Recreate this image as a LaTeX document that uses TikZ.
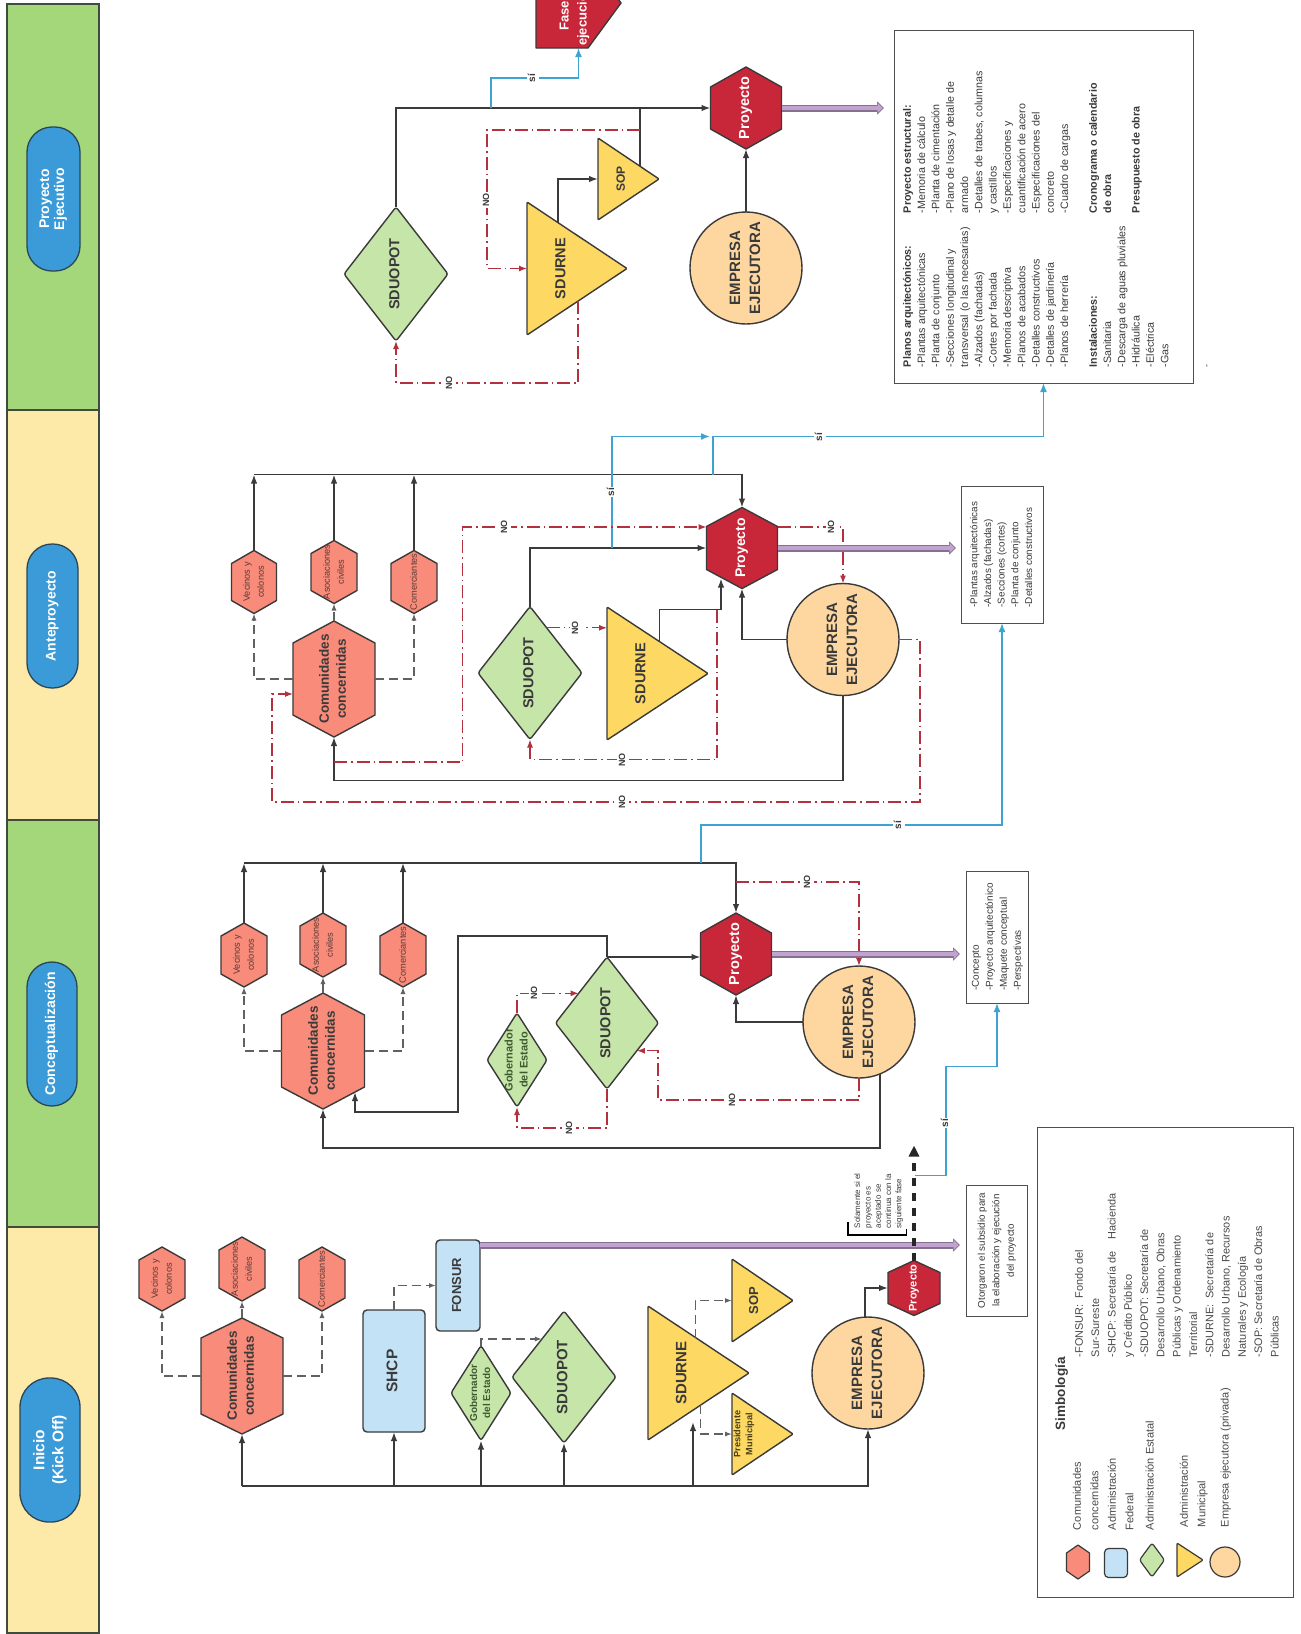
\documentclass[tikz,border=0pt]{standalone}
\usepackage{fontspec}
\setmainfont{Liberation Sans}
\usepackage{graphicx}
\usetikzlibrary{arrows.meta,calc}

\definecolor{stripG}{HTML}{A4D779}
\definecolor{stripY}{HTML}{FDE9A8}
\definecolor{stripB}{HTML}{3F4B3C}
\definecolor{pillF}{HTML}{3B9BD8}
\definecolor{pillB}{HTML}{2C4556}
\definecolor{salmon}{HTML}{F98B7A}
\definecolor{crim}{HTML}{C8273A}
\definecolor{lgreen}{HTML}{C6E5A9}
\definecolor{ylw}{HTML}{FDD862}
\definecolor{peach}{HTML}{FDD6A0}
\definecolor{lblue}{HTML}{C4E2F5}
\definecolor{ink}{HTML}{3A3A3A}
\definecolor{redl}{HTML}{B3313E}
\definecolor{bluel}{HTML}{3DA3D3}
\definecolor{purpI}{HTML}{C2A3CF}
\definecolor{purpO}{HTML}{86708F}
\definecolor{gtext}{HTML}{3E5B2F}
\definecolor{stext}{HTML}{5B3B36}
\definecolor{ytext}{HTML}{4A3F16}
\definecolor{lgray}{HTML}{4A4A4A}

\newcommand\rtx[1]{\rotatebox{90}{\begin{tabular}{@{}c@{}}#1\end{tabular}}}
\newcommand\rtl[1]{\rotatebox{90}{\begin{tabular}{@{}l@{}}#1\end{tabular}}}

% hexagon: name cx cy w h tip style content
\newcommand\mkhex[8]{%
  \path[#7] (#2,#3-#5/2) -- (#2+#4/2,#3-#5/2+#6) -- (#2+#4/2,#3+#5/2-#6)
    -- (#2,#3+#5/2) -- (#2-#4/2,#3+#5/2-#6) -- (#2-#4/2,#3-#5/2+#6) -- cycle;
  \node[lab, minimum width=#4pt, minimum height=#5pt] (#1) at (#2,#3) {#8};}
% diamond: name cx cy w h style content
\newcommand\mkdia[7]{%
  \path[#6] (#2,#3-#5/2) -- (#2+#4/2,#3) -- (#2,#3+#5/2) -- (#2-#4/2,#3) -- cycle;
  \node[lab, minimum width=#4pt, minimum height=#5pt] (#1) at (#2,#3) {#7};}
% triangle: name xbase ytop ybot xapex style shift content
\newcommand\mktri[8]{%
  \path[#6] (#2,#3) -- (#5,{(#3+#4)/2}) -- (#2,#4) -- cycle;
  \pgfmathsetmacro\trW{#5-#2}\pgfmathsetmacro\trH{#4-#3}%
  \pgfmathsetmacro\trX{(#2+#5)/2}\pgfmathsetmacro\trY{(#3+#4)/2}%
  \node[lab, minimum width=\trW pt, minimum height=\trH pt] (#1) at (\trX,\trY) {#8\hspace*{#7pt}};}

\newcommand\cfont{\bfseries\fontsize{13.5}{17}\selectfont\color{ink}}
\newcommand\dfont{\bfseries\fontsize{14.5}{17}\selectfont\color{ink}}
\newcommand\efont{\bfseries\fontsize{15}{20}\selectfont\color{ink}}
\newcommand\pfont{\bfseries\fontsize{14}{16}\selectfont\color{white}}
\newcommand\subfont{\fontsize{9.2}{14}\selectfont\color{stext}}

\tikzset{
  lab/.style={inner sep=0pt, outer sep=0pt},
  shp/.style={draw=ink, line width=1.4pt, line join=round},
  hexS/.style={shp, fill=salmon},
  hexP/.style={shp, fill=crim},
  dia/.style={shp, fill=lgreen, rounded corners=2.5pt},
  tri/.style={shp, fill=ylw, rounded corners=1pt},
  emp/.style={circle, shp, fill=peach, minimum size=112pt, inner sep=0pt, outer sep=0pt},
  rbox/.style={shp, fill=lblue, rounded corners=4pt, inner sep=0pt, outer sep=0pt},
  strip/.style={draw=stripB, line width=1.3pt, minimum width=92pt, inner sep=0pt, outer sep=0pt},
  pillS/.style={minimum height=144pt, rounded corners=25pt, fill=pillF, draw=pillB, line width=1.3pt,
    text=white, inner sep=0pt, font=\bfseries\fontsize{14}{15}\selectfont},
  tbox/.style={draw=ink!90, line width=1pt, fill=white, inner sep=0pt, outer sep=0pt, text=ink},
  conn/.style={draw=ink, line width=1.6pt},
  arr/.style={conn, -{Latex[length=9pt,width=6.5pt]}},
  redarr/.style={draw=redl, line width=1.3pt, dash pattern=on 13pt off 4pt on 1.5pt off 4pt,
    -{Latex[length=8pt,width=6pt]}},
  gdash/.style={draw=ink!80, line width=1.3pt, dash pattern=on 9pt off 5pt, -{Latex[length=7pt,width=5pt]}},
  bluearr/.style={draw=bluel, line width=1.6pt, -{Latex[length=9pt,width=7pt]}},
  purpO/.style={draw=purpO, line width=7pt, -{Triangle[length=7pt,width=13pt]}},
  purpI/.style={draw=purpI, line width=4.5pt, shorten >=1.4pt, -{Triangle[length=5pt,width=9.5pt]}},
  thickdash/.style={draw=black!85, line width=3.2pt, dash pattern=on 8pt off 7pt, -{Triangle[length=11pt,width=10pt]}},
  nolab/.style={fill=white, inner sep=1pt, text=ink, font=\bfseries\fontsize{9}{10}\selectfont},
  silab/.style={fill=white, inner sep=1pt, text=ink, font=\bfseries\fontsize{10}{10}\selectfont},
}

\begin{document}
\begin{tikzpicture}[x=1pt,y=-1pt]
\useasboundingbox (0,0) rectangle (1301,1634);
\fill[white] (0,0) rectangle (1301,1634);

% ---------- phase strips ----------
\node[strip, fill=stripG, minimum height=406pt] (sPE) at (53,207) {};
\node[strip, fill=stripY, minimum height=410pt] (sAP) at (53,615) {};
\node[strip, fill=stripG, minimum height=407pt] (sCO) at (53,1023.5) {};
\node[strip, fill=stripY, minimum height=406pt] (sIN) at (53,1430) {};
\node[pillS, minimum width=53pt] (pPE) at (53.5,199) {\rtx{Proyecto\\Ejecutivo}};
\node[pillS, minimum width=51pt] (pAP) at (52.5,616) {\rtx{Anteproyecto}};
\node[pillS, minimum width=50pt] (pCO) at (52,1034) {\rtx{Conceptualización}};
\node[pillS, minimum width=60pt, rounded corners=29pt, font=\bfseries\fontsize{15.5}{19}\selectfont] (pIN) at (50,1450) {\rtx{Inicio\\(Kick Off)}};

% ---------- text boxes ----------
\node[tbox, minimum width=299pt, minimum height=353pt] (TB4) at (1043.5,206.5) {};
\node[lab, anchor=south west, text=ink] (TB4t) at (903,367) {\rotatebox{90}{\fontsize{10.7}{14.3}\selectfont
 \parbox[t]{154pt}{\raggedright
 \textbf{Planos arquitectónicos:}\\
 -Plantas arquitectónicas\\
 -Planta de conjunto\\
 -Secciones longitudinal y\\
 transversal (o las necesarias)\\
 -Alzados (fachadas)\\
 -Cortes por fachada\\
 -Memoria descriptiva\\
 -Planos de acabados\\
 -Detalles constructivos\\
 -Detalles de jardinería\\
 -Planos de herrería\\[14.3pt]
 \textbf{Instalaciones:}\\
 -Sanitaria\\
 -Descarga de aguas pluviales\\
 -Hidráulica\\
 -Eléctrica\\
 -Gas}%
 \parbox[t]{150pt}{\raggedright
 \textbf{Proyecto estructural:}\\
 -Memoria de cálculo\\
 -Planta de cimentación\\
 -Plano de losas y detalle de\\
 armado\\
 -Detalles de trabes, columnas\\
 y castillos\\
 -Especificaciones y\\
 cuantificación de acero\\
 -Especificaciones del\\
 concreto\\
 -Cuadro de cargas\\[14.3pt]
 \textbf{Cronograma o calendario}\\
 \textbf{de obra}\\[14.3pt]
 \textbf{Presupuesto de obra}}}};
\node[lab, text=ink] (dotm) at (1208,366) {\rotatebox{90}{\fontsize{9}{9}\selectfont -}};
\node[tbox, minimum width=82pt, minimum height=137pt, font=\fontsize{9.9}{13.7}\selectfont] (TB3) at (1002,554.5)
  {\rtl{-Plantas arquitectónicas\\-Alzados (fachadas)\\-Secciones (cortes)\\-Planta de conjunto\\-Detalles constructivos}};
\node[tbox, minimum width=62pt, minimum height=132pt, font=\fontsize{10}{14}\selectfont] (TB2) at (997,937)
  {\rtl{-Concepto\\-Proyecto arquitectónico\\-Maquete conceptual\\-Perspectivas}};
\node[tbox, minimum width=61pt, minimum height=131pt, font=\fontsize{9.8}{14.5}\selectfont] (TB1) at (996.5,1250.5)
  {\rtx{Otorgaron el subsidio para\\la elaboración y ejecución\\del proyecto}};

% ---------- legend ----------
\node[tbox, minimum width=256pt, minimum height=470pt] (LEG) at (1165,1362) {};
\node[lab, anchor=south, text=ink, font=\bfseries\fontsize{13.5}{16}\selectfont] (LSim) at (1062,1430) {\rtx{Simbología}};
\mkhex{Lhex}{1078}{1562}{23}{34}{8}{hexS, line width=1.2pt}{}
\node[rbox, line width=1.2pt, minimum width=23pt, minimum height=29pt] (Lrect) at (1116,1563) {};
\mkdia{Ldia}{1152}{1560}{25}{34}{dia, line width=1.2pt}{}
\mktri{Ltri}{1177}{1543}{1577}{1203}{tri, line width=1.2pt}{0}{}
\node[emp, line width=1.2pt, minimum size=30pt] (Lcir) at (1225,1562) {};
\begin{scope}[every node/.style={lab, anchor=south, text=lgray, font=\fontsize{11}{17.5}\selectfont}]
\node (L1) at (1086,1530) {\rtl{Comunidades\\concernidas}};
\node (L2) at (1121,1530) {\rtl{Administración\\Federal}};
\node (L3) at (1150,1530) {\rtl{Administración Estatal}};
\node (L4) at (1193,1527) {\rtl{Administración\\Municipal}};
\node (L5) at (1225,1527) {\rtl{Empresa ejecutora (privada)}};
\end{scope}
\node[lab, anchor=south west, text=lgray] (LDef) at (1075,1357) {\rotatebox{90}{\fontsize{10.9}{16.3}\selectfont
 \parbox[t]{176pt}{\raggedright
 -FONSUR:\hspace{6pt}Fondo del\\
 Sur-Sureste\\
 -SHCP: Secretaría de\hspace{12pt}Hacienda\\
 y Crédito Público\\
 -SDUOPOT: Secretaría de\\
 Desarrollo Urbano, Obras\\
 Públicas y Ordenamiento\\
 Territorial\\
 -SDURNE:\hspace{6pt}Secretaría de\\
 Desarrollo Urbano, Recursos\\
 Naturales y Ecología\\
 -SOP: Secretaría de Obras\\
 Públicas}}};

% ================= PROYECTO EJECUTIVO =================
\path[shp, fill=crim] (536,-42) -- (536,48) -- (588,48) -- (621,3) -- (588,-42) -- cycle;
\node[lab, minimum width=85pt, minimum height=90pt] (F4) at (578.5,3) {};
\node[lab, text=white, font=\bfseries\fontsize{13}{18}\selectfont] (F4t) at (574,16) {\rtx{Fase\\ejecución}};
\mkdia{D4}{396}{274}{104}{134}{dia}{\dfont\rtx{SDUOPOT}}
\mkhex{P4}{746}{108}{71}{82}{20}{hexP}{\bfseries\fontsize{14.5}{16}\selectfont\color{white}\rtx{Proyecto}}
\mktri{T4}{527}{202}{335}{627}{tri}{30}{\dfont\rtx{SDURNE}}
\mktri{S4}{598}{138}{220}{659}{tri}{13}{\bfseries\fontsize{12}{14}\selectfont\color{ink}\rtx{SOP}}
\node[emp] (E4) at (746,268) {\efont\rtx{EMPRESA\\EJECUTORA}};

\draw[arr] (D4.north) |- (P4.west);
\coordinate (j4) at ($(D4.north |- P4.west)+(95,0)$);
\draw[bluearr] (j4) -- ++(0,-30) -| (F4.south);
\coordinate (t4a) at ($(T4.north west)!0.31!(T4.east)$);
\draw[arr] (t4a) |- (S4.west);
\coordinate (s4a) at ($(S4.north west)!0.69!(S4.east)$);
\draw[conn] (s4a) -- (s4a |- P4.west);
\coordinate (r4) at ($(s4a |- P4.west)+(0,22)$);
\draw[redarr] (r4) -| ($(T4.west)+(-40,0)$) -- (T4.west);
\coordinate (t4b) at ($(T4.south west)!0.51!(T4.east)$);
\draw[redarr] (t4b) -- ++(0,82) -| (D4.south);
\draw[arr] (E4.north) -- (P4.south);
\draw[purpO] (P4.east) -- ($(P4.east -| TB4.west)+(-10,0)$);
\draw[purpI] (P4.east) -- ($(P4.east -| TB4.west)+(-10,0)$);
\node[silab] (si4) at (533,78) {\rtx{sí}};
\node[nolab] (no4a) at (487,200) {\rtx{NO}};
\node[nolab] (no4b) at (450,383) {\rtx{NO}};

% ================= ANTEPROYECTO =================
\mkhex{C3}{334}{679}{82}{116}{22}{hexS}{\cfont\rtx{Comunidades\\concernidas}}
\mkhex{V3}{254}{582}{45}{63}{13}{hexS}{\subfont\rtx{Vecinos y\\colonos}}
\mkhex{A3}{334}{572}{46}{63}{13}{hexS}{\subfont\rtx{Asociaciones\\civiles}}
\mkhex{M3}{414}{582}{46}{63}{13}{hexS}{\subfont\rtx{Comerciantes}}
\mkhex{P3}{742}{548}{71}{81}{19}{hexP}{\pfont\rtx{Proyecto}}
\mkdia{D3}{530}{673}{104}{133}{dia}{\dfont\rtx{SDUOPOT}}
\mktri{T3}{607}{607}{740}{708}{tri}{31}{\dfont\rtx{SDURNE}}
\node[emp] (E3) at (843,639.5) {\efont\rtx{EMPRESA\\EJECUTORA}};

\draw[gdash] (C3.west) -| (V3.south);
\draw[gdash] (C3.north) -- (A3.south);
\draw[gdash] (C3.east) -| (M3.south);
\coordinate (top3) at ($(P3.north)+(0,-33)$);
\draw[arr] (V3.north) -- (V3.north |- top3);
\draw[arr] (A3.north) -- (A3.north |- top3);
\draw[arr] (M3.north) -- (M3.north |- top3);
\draw[arr] (V3.north |- top3) -| (P3.north);
\draw[arr] (D3.north) |- (P3.west);
\coordinate (b3a) at ($(D3.north |- P3.west)+(82,0)$);
\coordinate (b3d) at ($(top3)+(-29,0)$);
\coordinate (b3c) at ($(b3d)+(0,-38)$);
\draw[bluearr] (b3a) |- ($(b3c)+(-3,0)$);
\draw[bluearr] (b3d) -- (b3c) -| (TB4.south);
\coordinate (d3a) at ($(D3.north)!0.32!(D3.east)$);
\draw[redarr] (d3a) -- (d3a -| T3.west);
\coordinate (t3a) at ($(T3.north west)!0.52!(T3.east)$);
\coordinate (p3b) at ($(P3.south)+(-21,-10)$);
\draw[arr] (t3a) |- ($(p3b)+(0,31)$) -- (p3b);
\draw[arr] (E3.west) -| (P3.south);
\draw[arr] (E3.south) -- ++(0,85) -| (C3.south);
\draw[redarr] ($(P3.east)+(0,-21)$) -| (E3.north);
\coordinate (r3a) at ($(C3.south)+(0,25)$);
\draw[redarr] (r3a) -| ($(P3.west)+(-244,-21)$) -- ($(P3.west)+(0,-21)$);
\coordinate (r3c) at ($(p3b)+(-4,31)$);
\draw[redarr] (r3c) -- ++(0,150) -| (D3.south);
\draw[redarr] (E3.east) -- ++(21,0) |- ($(C3.west)+(-21,123)$) |- ($(C3.west)+(0,15)$);
\draw[purpO] (P3.east) -- ($(P3.east -| TB3.west)+(-5,0)$);
\draw[purpI] (P3.east) -- ($(P3.east -| TB3.west)+(-5,0)$);
\node[silab] (si3a) at (612,492) {\rtx{sí}};
\node[silab] (si3b) at (820,437) {\rtx{sí}};
\node[nolab] (no3a) at (576,628) {\rtx{NO}};
\node[nolab] (no3b) at (832,527) {\rtx{NO}};
\node[nolab] (no3c) at (505,527) {\rtx{NO}};
\node[nolab] (no3d) at (623,760) {\rtx{NO}};
\node[nolab] (no3e) at (623,802) {\rtx{NO}};

% ================= CONCEPTUALIZACION =================
\mkhex{C2}{323}{1051}{83}{116}{22}{hexS}{\cfont\rtx{Comunidades\\concernidas}}
\mkhex{V2}{244}{955}{46}{64}{13}{hexS}{\subfont\rtx{Vecinos y\\colonos}}
\mkhex{A2}{323}{945}{46}{64}{13}{hexS}{\subfont\rtx{Asociaciones\\civiles}}
\mkhex{M2}{403}{955}{46}{64}{13}{hexS}{\subfont\rtx{Comerciantes}}
\mkhex{P2}{736}{954}{71}{82}{20}{hexP}{\bfseries\fontsize{14.5}{16}\selectfont\color{white}\rtx{Proyecto}}
\mkdia{D2}{607}{1023}{103}{132}{dia}{\dfont\rtx{SDUOPOT}}
\mkdia{G2}{517}{1060}{60}{94}{dia}{\bfseries\fontsize{11}{15}\selectfont\color{gtext}\rtx{Gobernador\\del Estado}}
\node[emp] (E2) at (859,1022) {\efont\rtx{EMPRESA\\EJECUTORA}};

\draw[gdash] (C2.west) -| (V2.south);
\draw[gdash] (C2.north) -- (A2.south);
\draw[gdash] (C2.east) -| (M2.south);
\coordinate (top2) at ($(P2.north)+(0,-50)$);
\draw[arr] (V2.north) -- (V2.north |- top2);
\draw[arr] (A2.north) -- (A2.north |- top2);
\draw[arr] (M2.north) -- (M2.north |- top2);
\draw[arr] (V2.north |- top2) -| (P2.north);
\draw[arr] (D2.north) -- (D2.north -| P2.west);
\coordinate (c2a) at ($(C2.center)+(32,41)$);
\draw[arr] (D2.north) |- ($(D2.north)+(-149,-21)$) |- ($(c2a)+(0,20)$) -- (c2a);
\coordinate (b2a) at ($(top2)+(-35,0)$);
\draw[bluearr] (b2a) -- ++(0,-38) -| (TB3.south);
\draw[arr] (E2.west) -| (P2.south);
\coordinate (e2b) at ($(E2.center)+(21,52)$);
\draw[arr] (e2b) -- ++(0,74) -| (C2.south);
\coordinate (r2a) at ($(top2)+(0,19)$);
\draw[redarr] (r2a) -| (E2.north);
\coordinate (d2b) at ($(D2.east)!0.42!(D2.south)$);
\draw[redarr] (E2.south) -- ++(0,22) -| ($(d2b)+(21,0)$) -- (d2b);
\coordinate (d2c) at ($(D2.west)!0.45!(D2.north)$);
\draw[redarr] (G2.north) |- (d2c);
\draw[redarr] (D2.south) -- ++(0,39) -| (G2.south);
\draw[purpO] (P2.east) -- ($(P2.east -| TB2.west)+(-6,0)$);
\draw[purpI] (P2.east) -- ($(P2.east -| TB2.west)+(-6,0)$);
\node[silab] (si2a) at (899,825) {\rtx{sí}};
\node[nolab] (no2a) at (808,882) {\rtx{NO}};
\node[nolab] (no2b) at (733,1100) {\rtx{NO}};
\node[nolab] (no2c) at (535,993) {\rtx{NO}};
\node[nolab] (no2d) at (570,1128) {\rtx{NO}};

% ================= INICIO =================
\mkhex{C1}{242}{1376}{82}{116}{20}{hexS}{\cfont\rtx{Comunidades\\concernidas}}
\mkhex{V1}{162}{1279}{46}{64}{13}{hexS}{\subfont\rtx{Vecinos y\\colonos}}
\mkhex{A1}{242}{1269}{46}{64}{13}{hexS}{\subfont\rtx{Asociaciones\\civiles}}
\mkhex{M1}{322}{1279}{46}{64}{13}{hexS}{\subfont\rtx{Comerciantes}}
\node[rbox, minimum width=62pt, minimum height=122pt] (SHCP) at (394,1371) {\bfseries\fontsize{15.5}{17}\selectfont\color{ink}\rtx{SHCP}};
\node[rbox, minimum width=44pt, minimum height=91pt] (FONSUR) at (458,1285.5) {\bfseries\fontsize{13}{15}\selectfont\color{ink}\rtx{FONSUR}};
\mkdia{G1}{481}{1393}{60}{95}{dia}{\bfseries\fontsize{10}{13}\selectfont\color{gtext}\rtx{Gobernador\\del Estado}}
\mkdia{D1}{564}{1377}{104}{132}{dia}{\bfseries\fontsize{15}{17}\selectfont\color{ink}\rtx{SDUOPOT}}
\mktri{T1}{648}{1306}{1440}{749}{tri}{31}{\bfseries\fontsize{15}{17}\selectfont\color{ink}\rtx{SDURNE}}
\mktri{S1}{732}{1259}{1342}{793}{tri}{15}{\bfseries\fontsize{13}{15}\selectfont\color{ink}\rtx{SOP}}
\mktri{PM}{732}{1393}{1475}{793}{tri}{37}{\bfseries\fontsize{9.2}{12}\selectfont\color{ytext}\rtx{Presidente\\Municipal}}
\node[emp] (E1) at (868,1373) {\efont\rtx{EMPRESA\\EJECUTORA}};
\mkhex{P1}{914}{1288}{52}{55}{12}{hexP}{\bfseries\fontsize{11}{13}\selectfont\color{white}\rtx{Proyecto}}

\draw[gdash] (C1.west) -| (V1.south);
\draw[gdash] (C1.north) -- (A1.south);
\draw[gdash] (C1.east) -| (M1.south);
\coordinate (base1) at ($(C1.south)+(0,52)$);
\draw[arr] (base1) -- (C1.south);
\draw[arr] (base1) -| (E1.south);
\draw[arr] (SHCP.south |- base1) -- (SHCP.south);
\draw[arr] (G1.south |- base1) -- (G1.south);
\draw[arr] (D1.south |- base1) -- (D1.south);
\coordinate (t1c) at ($(T1.south west)+(45,-18)$);
\draw[arr] (t1c |- base1) -- (t1c);
\draw[gdash] (SHCP.north) |- (FONSUR.west);
\coordinate (f1) at ($(FONSUR.north east)+(0,5)$);
\draw[purpO] (f1) -- ($(f1 -| TB1.west)+(-6,0)$);
\draw[purpI] (f1) -- ($(f1 -| TB1.west)+(-6,0)$);
\coordinate (d1a) at ($(D1.west)!0.576!(D1.north)$);
\draw[gdash] (G1.north) |- (d1a);
\coordinate (t1a) at ($(T1.north west)!0.47!(T1.east)$);
\draw[gdash] (t1a) |- (S1.west);
\coordinate (t1b) at ($(T1.south west)!0.52!(T1.east)$);
\draw[gdash] (t1b) |- (PM.west);
\draw[arr] ($(E1.north)+(-3,0)$) |- (P1.west);
\draw[thickdash] (P1.north) -- ++(0,-115);
\coordinate (b1a) at ($(P1.north)+(1,-85)$);
\draw[bluearr] (b1a) -| ($(b1a)+(31,-109)$) -| (TB2.south);
\node[silab] (si1) at (946,1123) {\rtx{sí}};

% note with bracket
\node[lab, anchor=south west, text=ink, font=\fontsize{8}{10.3}\selectfont] (sol) at (853,1228)
  {\rtl{Solamente si el\\proyecto es\\aceptado se\\continua con la\\siguiente fase}};
\draw[line width=1.3pt, black] ($(sol.south west)+(-5,-6)$) |- ($(sol.south east)+(2,7)$) -- ++(0,-6);

\end{tikzpicture}
\end{document}
